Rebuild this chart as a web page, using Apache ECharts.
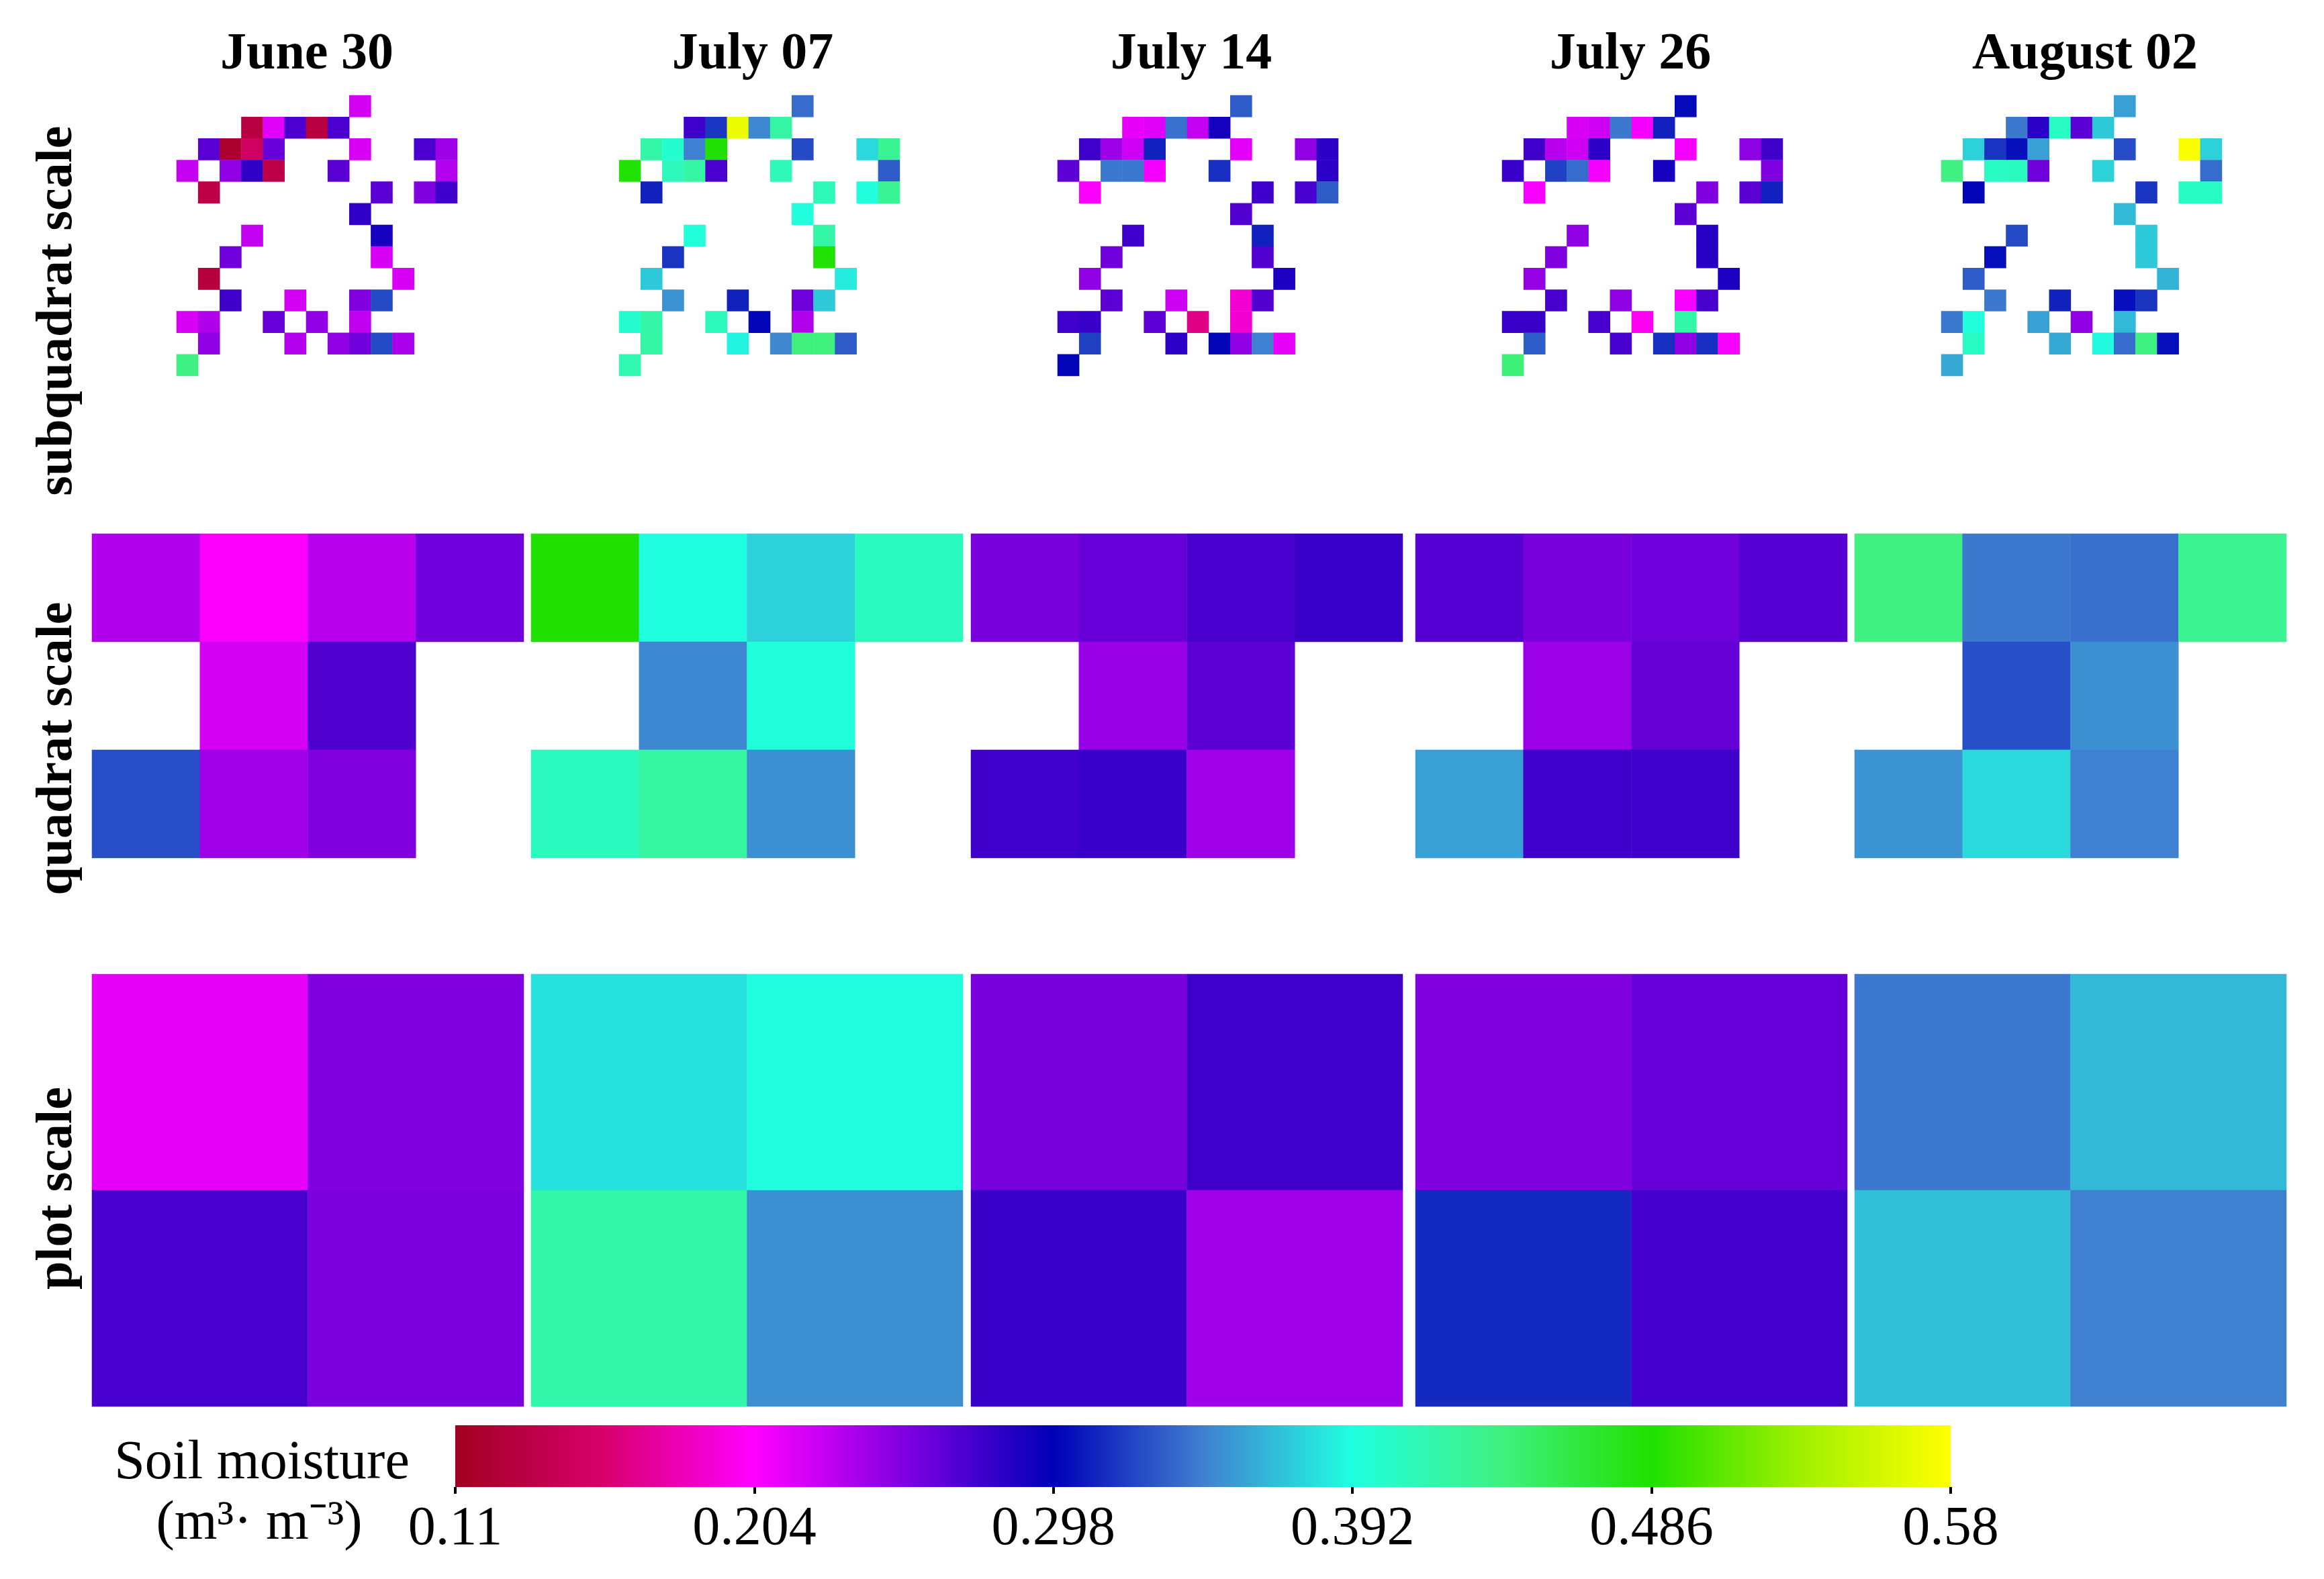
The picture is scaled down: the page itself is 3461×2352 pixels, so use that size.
<!DOCTYPE html>
<html>
<head>
<meta charset="utf-8">
<script src="https://cdn.jsdelivr.net/npm/echarts@6/dist/echarts.min.js"></script>
<style>
html,body{margin:0;padding:0;background:#fff;}
#chart{width:3461px;height:2352px;}
</style>
</head>
<body>
<div id="chart"></div>
<script>
// ---------------- DATA ----------------
const DATES = ['June 30', 'July 07', 'July 14', 'July 26', 'August 02'];
const SCALE_NAMES = ['subquadrat scale', 'quadrat scale', 'plot scale'];

// subquadrat scale: 13 x 13 grid, cells listed as [row, col]
const SUB_ROWS = ['0','1','2','3','4','5','6','7','8','9','10','11','12'];
const SUB_COLS = ['0','1','2','3','4','5','6','7','8','9','10','11','12'];
const SUB_CELLS = [
  [0,8],
  [1,3],[1,4],[1,5],[1,6],[1,7],
  [2,1],[2,2],[2,3],[2,4],[2,8],[2,11],[2,12],
  [3,0],[3,2],[3,3],[3,4],[3,7],[3,12],
  [4,1],[4,9],[4,11],[4,12],
  [5,8],
  [6,3],[6,9],
  [7,2],[7,9],
  [8,1],[8,10],
  [9,2],[9,5],[9,8],[9,9],
  [10,0],[10,1],[10,4],[10,6],[10,8],
  [11,1],[11,5],[11,7],[11,8],[11,9],[11,10],
  [12,0]
];
const SUB_JUN30 = [
  0.220,
  0.130,0.215,0.270,0.130,0.270,
  0.265,0.120,0.150,0.260,0.218,0.270,0.240,
  0.225,0.245,0.280,0.135,0.265,0.232,
  0.135,0.265,0.251,0.275,
  0.280,
  0.226,0.290,
  0.257,0.218,
  0.128,0.218,
  0.275,0.220,0.251,0.325,
  0.218,0.233,0.260,0.245,0.227,
  0.245,0.232,0.245,0.257,0.325,0.235,
  0.438
];
const SUB_JUL07 = [
  0.338,
  0.275,0.318,0.570,0.348,0.422,
  0.420,0.400,0.345,0.485,0.325,0.378,0.430,
  0.484,0.410,0.422,0.270,0.412,0.332,
  0.310,0.412,0.393,0.430,
  0.393,
  0.395,0.420,
  0.317,0.484,
  0.372,0.385,
  0.352,0.310,0.257,0.372,
  0.400,0.420,0.410,0.300,0.233,
  0.422,0.388,0.348,0.440,0.440,0.332,
  0.415
];
const SUB_JUL14 = [
  0.332,
  0.213,0.215,0.340,0.226,0.290,
  0.275,0.240,0.222,0.310,0.214,0.245,0.282,
  0.264,0.342,0.342,0.208,0.315,0.282,
  0.205,0.275,0.272,0.332,
  0.268,
  0.275,0.310,
  0.257,0.268,
  0.245,0.288,
  0.264,0.222,0.190,0.268,
  0.275,0.277,0.264,0.165,0.190,
  0.322,0.282,0.300,0.245,0.345,0.213,
  0.300
];
const SUB_JUL26 = [
  0.302,
  0.218,0.222,0.342,0.208,0.310,
  0.275,0.230,0.222,0.282,0.208,0.245,0.275,
  0.277,0.322,0.338,0.208,0.290,0.251,
  0.207,0.251,0.264,0.310,
  0.264,
  0.245,0.284,
  0.251,0.284,
  0.243,0.288,
  0.272,0.245,0.207,0.272,
  0.277,0.277,0.272,0.200,0.420,
  0.332,0.272,0.315,0.245,0.315,0.207,
  0.442
];
const SUB_AUG02 = [
  0.357,
  0.342,0.282,0.405,0.264,0.372,
  0.375,0.317,0.304,0.357,0.326,0.578,0.375,
  0.438,0.405,0.408,0.257,0.375,0.338,
  0.300,0.317,0.405,0.405,
  0.366,
  0.325,0.372,
  0.303,0.372,
  0.332,0.364,
  0.342,0.310,0.303,0.317,
  0.342,0.393,0.357,0.245,0.366,
  0.405,0.360,0.390,0.338,0.438,0.303,
  0.360
];

// quadrat scale: 3 rows x 4 cols, cells [row, col]
const QUAD_ROWS = ['0','1','2'];
const QUAD_COLS = ['0','1','2','3'];
const QUAD_CELLS = [[0,0],[0,1],[0,2],[0,3],[1,1],[1,2],[2,0],[2,1],[2,2]];
const QUAD_JUN30 = [0.233,0.205,0.230,0.257,0.220,0.269,0.327,0.239,0.251];
const QUAD_JUL07 = [0.486,0.392,0.375,0.408,0.348,0.394,0.408,0.423,0.351];
const QUAD_JUL14 = [0.254,0.260,0.272,0.277,0.242,0.264,0.275,0.277,0.239];
const QUAD_JUL26 = [0.266,0.254,0.257,0.266,0.241,0.261,0.357,0.275,0.275];
const QUAD_AUG02 = [0.439,0.342,0.339,0.431,0.327,0.351,0.352,0.378,0.345];

// plot scale: 2 x 2
const PLOT_ROWS = ['0','1'];
const PLOT_COLS = ['0','1'];
const PLOT_CELLS = [[0,0],[0,1],[1,0],[1,1]];
const PLOT_JUN30 = [0.213,0.251,0.272,0.253];
const PLOT_JUL07 = [0.381,0.393,0.419,0.351];
const PLOT_JUL14 = [0.254,0.275,0.277,0.239];
const PLOT_JUL26 = [0.251,0.260,0.313,0.273];
const PLOT_AUG02 = [0.342,0.366,0.369,0.345];

// colour scale
const CB_MIN = 0.11;
const CB_MAX = 0.58;
const CB_INTERVAL = 0.094;
const COLORS = ['#a00020','#d8006c','#ff00ff','#8000e0','#0000b8','#4080d0',
                '#20ffe0','#40f080','#20e000','#a0f000','#ffff00'];

// ---------------- LAYOUT ----------------
const SUB_LEFT = [263, 922, 1575, 2237, 2891];
const SUB_TOP = 142, SUB_SIZE = 418;
const PANEL_LEFT = [137, 791, 1446, 2108, 2762];
const PANEL_W = 643;
const QUAD_TOP = 795, QUAD_H = 483;
const PLOT_TOP = 1451, PLOT_H = 644;
const TITLE_X = [457, 1121, 1774, 2428, 3105];
const TITLE_Y = 82;
const LABEL_X = 86;
const LABEL_Y = [463, 1115, 1770];
const CB_LEFT = 678, CB_WIDTH = 2227, CB_TOP = 2123, CB_HEIGHT = 92;
const FONT = '"Liberation Serif", "Times New Roman", serif';

const subSets = [SUB_JUN30, SUB_JUL07, SUB_JUL14, SUB_JUL26, SUB_AUG02];
const quadSets = [QUAD_JUN30, QUAD_JUL07, QUAD_JUL14, QUAD_JUL26, QUAD_AUG02];
const plotSets = [PLOT_JUN30, PLOT_JUL07, PLOT_JUL14, PLOT_JUL26, PLOT_AUG02];

const grids = [], xAxes = [], yAxes = [], series = [];

function addPanel(left, top, w, h, cols, rows, cells, vals) {
  const idx = grids.length;
  grids.push({left: left, top: top, width: w, height: h, containLabel: false, outerBoundsMode: 'none'});
  xAxes.push({type: 'category', gridIndex: idx, data: cols, show: false});
  yAxes.push({type: 'category', gridIndex: idx, data: rows, inverse: true, show: false});
  series.push({
    type: 'heatmap', xAxisIndex: idx, yAxisIndex: idx, silent: true,
    itemStyle: {borderWidth: 0},
    emphasis: {disabled: true},
    data: cells.map((c, k) => [c[1], c[0], vals[k]])
  });
}

for (let i = 0; i < 5; i++) {
  addPanel(SUB_LEFT[i], SUB_TOP, SUB_SIZE, SUB_SIZE, SUB_COLS, SUB_ROWS, SUB_CELLS, subSets[i]);
}
for (let i = 0; i < 5; i++) {
  addPanel(PANEL_LEFT[i], QUAD_TOP, PANEL_W, QUAD_H, QUAD_COLS, QUAD_ROWS, QUAD_CELLS, quadSets[i]);
}
for (let i = 0; i < 5; i++) {
  addPanel(PANEL_LEFT[i], PLOT_TOP, PANEL_W, PLOT_H, PLOT_COLS, PLOT_ROWS, PLOT_CELLS, plotSets[i]);
}
const heatmapCount = series.length;

// colour bar grid
const cbIdx = grids.length;
grids.push({left: CB_LEFT, top: CB_TOP, width: CB_WIDTH, height: CB_HEIGHT, containLabel: false, outerBoundsMode: 'none'});
xAxes.push({
  type: 'value', gridIndex: cbIdx, min: CB_MIN, max: CB_MAX, interval: CB_INTERVAL,
  axisLine: {show: false},
  splitLine: {show: false},
  axisTick: {show: true, length: 10, lineStyle: {color: '#000', width: 4}},
  axisLabel: {
    show: true, margin: 22, color: '#000', fontFamily: FONT, fontSize: 82,
    showMinLabel: true, showMaxLabel: true,
    formatter: v => String(+(+v).toFixed(3))
  }
});
yAxes.push({type: 'category', gridIndex: cbIdx, data: ['bar'], show: false});

const stops = COLORS.map((c, k) => ({offset: k / (COLORS.length - 1), color: c}));
series.push({
  type: 'custom', xAxisIndex: cbIdx, yAxisIndex: cbIdx, silent: true,
  encode: {x: [0, 1], y: 2},
  data: [[CB_MIN, CB_MAX, 0]],
  renderItem: function (params, api) {
    const p0 = api.coord([api.value(0), 0]);
    const p1 = api.coord([api.value(1), 0]);
    const h = api.size([0, 1])[1];
    return {
      type: 'rect',
      shape: {x: p0[0], y: p0[1] - h / 2, width: p1[0] - p0[0], height: h},
      style: {fill: new echarts.graphic.LinearGradient(0, 0, 1, 0, stops)}
    };
  }
});

// texts
const graphics = [];
DATES.forEach((d, i) => {
  graphics.push({
    type: 'text', x: TITLE_X[i], y: TITLE_Y,
    style: {text: d, font: 'bold 78px ' + FONT, fill: '#000',
            textAlign: 'center', textVerticalAlign: 'middle', align: 'center', verticalAlign: 'middle'}
  });
});
SCALE_NAMES.forEach((n, i) => {
  graphics.push({
    type: 'text', x: LABEL_X, y: LABEL_Y[i], rotation: Math.PI / 2,
    style: {text: n, font: 'bold 76px ' + FONT, fill: '#000',
            textAlign: 'center', textVerticalAlign: 'middle', align: 'center', verticalAlign: 'middle'}
  });
});
graphics.push({
  type: 'text', x: 390, y: 2180,
  style: {text: 'Soil moisture', font: '82px ' + FONT, fill: '#000',
          textAlign: 'center', textVerticalAlign: 'middle', align: 'center', verticalAlign: 'middle'}
});
graphics.push({
  type: 'text', x: 386, y: 2270,
  style: {text: '(m\u00B3\u00B7 m\u207B\u00B3)', font: '82px ' + FONT, fill: '#000',
          textAlign: 'center', textVerticalAlign: 'middle', align: 'center', verticalAlign: 'middle'}
});

const chart = echarts.init(document.getElementById('chart'), null, {renderer: 'canvas'});
chart.setOption({
  backgroundColor: '#ffffff',
  animation: false,
  grid: grids,
  xAxis: xAxes,
  yAxis: yAxes,
  visualMap: {
    type: 'continuous', show: false, min: CB_MIN, max: CB_MAX,
    seriesIndex: Array.from({length: heatmapCount}, (_, k) => k),
    inRange: {color: COLORS}
  },
  graphic: graphics,
  series: series
});
</script>
</body>
</html>
